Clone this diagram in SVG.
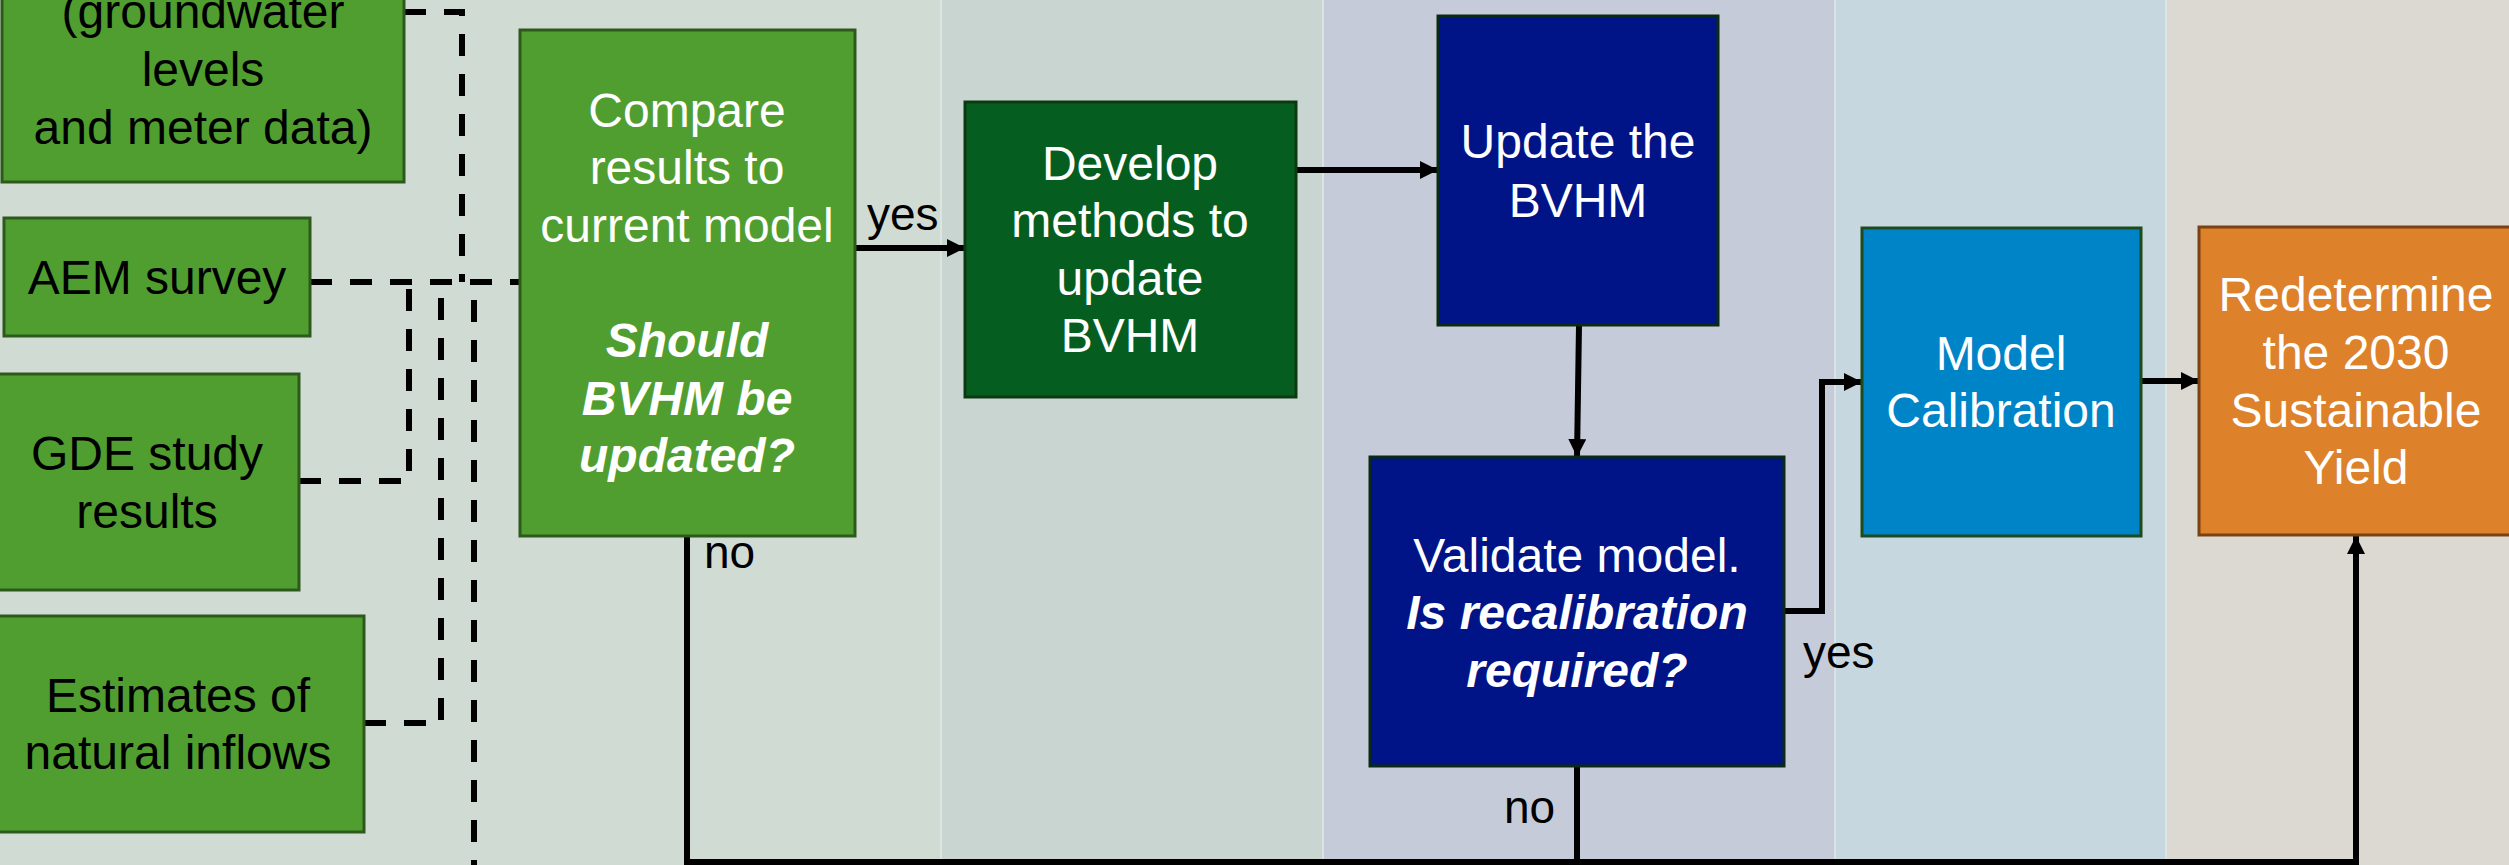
<svg xmlns="http://www.w3.org/2000/svg" width="2509" height="865" viewBox="0 0 2509 865">
<defs>
<marker id="arr" markerUnits="userSpaceOnUse" markerWidth="20" markerHeight="20" refX="18" refY="9" orient="auto">
<path d="M0,0 L18,9 L0,18 z" fill="#000"/>
</marker>
<style>
.t{font-family:"Liberation Sans",Arial,sans-serif;font-size:48px;text-anchor:middle}
.w{fill:#fff}
.k{fill:#000}
.bi{font-weight:bold;font-style:italic}
.lbl{font-family:"Liberation Sans",Arial,sans-serif;font-size:46px;fill:#000}
.g{fill:#509E30;stroke:#2D5A1C;stroke-width:3}
.sol{fill:none;stroke:#000;stroke-width:6}
.dash{fill:none;stroke:#000;stroke-width:6;stroke-dasharray:22 18}
.sep{stroke:#E2E8E6;stroke-width:1.5}
</style>
</defs>
<g id="bands">
<rect x="0" y="0" width="941" height="865" fill="#D0DBD3"/>
<rect x="941" y="0" width="382" height="865" fill="#C8D5D0"/>
<rect x="1323" y="0" width="512" height="865" fill="#C5CBD9"/>
<rect x="1835" y="0" width="331" height="865" fill="#C6D7DF"/>
<rect x="2166" y="0" width="343" height="865" fill="#DCD8D2"/>
<line class="sep" x1="941" y1="0" x2="941" y2="865"/>
<line class="sep" x1="1323" y1="0" x2="1323" y2="865"/>
<line class="sep" x1="1835" y1="0" x2="1835" y2="865"/>
<line class="sep" x1="2166" y1="0" x2="2166" y2="865"/>
</g>
<g id="connectors">
<path class="dash" d="M404,12 H462 V282"/>
<path class="dash" d="M310,282 H520"/>
<path class="dash" d="M299,481 H409 V282"/>
<path class="dash" d="M364,723 H441 V282"/>
<path class="dash" d="M474,300 V865"/>
<path class="sol" d="M856,248 H965" marker-end="url(#arr)"/>
<path class="sol" d="M1296,170 H1438" marker-end="url(#arr)"/>
<path class="sol" d="M1579,325 L1577,457" marker-end="url(#arr)"/>
<path class="sol" d="M1784,611 H1822 V382 H1862" marker-end="url(#arr)"/>
<path class="sol" d="M2141,381 H2199" marker-end="url(#arr)"/>
<path class="sol" d="M687,536 V862 H2356 V536" marker-end="url(#arr)"/>
<path class="sol" d="M1577,766 V862"/>
<text class="lbl" x="867" y="230">yes</text>
<text class="lbl" x="1803" y="668">yes</text>
<text class="lbl" x="704" y="568">no</text>
<text class="lbl" x="1504" y="823">no</text>
</g>
<g id="node-monitoring">
<rect class="g" x="2" y="-60" width="402" height="242"/>
<text class="t k" x="203" y="28">(groundwater</text>
<text class="t k" x="203" y="86">levels</text>
<text class="t k" x="203" y="144">and meter data)</text>
</g>
<g id="node-aem">
<rect class="g" x="4" y="218" width="306" height="118"/>
<text class="t k" x="157" y="294">AEM survey</text>
</g>
<g id="node-gde">
<rect class="g" x="-4" y="374" width="303" height="216"/>
<text class="t k" x="147" y="470">GDE study</text>
<text class="t k" x="147" y="528">results</text>
</g>
<g id="node-inflows">
<rect class="g" x="-8" y="616" width="372" height="216"/>
<text class="t k" x="178" y="712">Estimates of</text>
<text class="t k" x="178" y="769">natural inflows</text>
</g>
<g id="node-compare">
<rect class="g" x="520" y="30" width="335" height="506"/>
<text class="t w" x="687" y="127">Compare</text>
<text class="t w" x="687" y="184">results to</text>
<text class="t w" x="687" y="242">current model</text>
<text class="t w bi" x="687" y="357">Should</text>
<text class="t w bi" x="687" y="415">BVHM be</text>
<text class="t w bi" x="687" y="472">updated?</text>
</g>
<g id="node-develop">
<rect x="965" y="102" width="331" height="295" fill="#055E20" stroke="#0B3A12" stroke-width="3"/>
<text class="t w" x="1130" y="180">Develop</text>
<text class="t w" x="1130" y="237">methods to</text>
<text class="t w" x="1130" y="295">update</text>
<text class="t w" x="1130" y="352">BVHM</text>
</g>
<g id="node-update">
<rect x="1438" y="16" width="280" height="309" fill="#001487" stroke="#0B2A14" stroke-width="3"/>
<text class="t w" x="1578" y="158">Update the</text>
<text class="t w" x="1578" y="217">BVHM</text>
</g>
<g id="node-validate">
<rect x="1370" y="457" width="414" height="309" fill="#001487" stroke="#0B2A14" stroke-width="3"/>
<text class="t w" x="1577" y="572">Validate model.</text>
<text class="t w bi" x="1577" y="629">Is recalibration</text>
<text class="t w bi" x="1577" y="687">required?</text>
</g>
<g id="node-calibration">
<rect x="1862" y="228" width="279" height="308" fill="#0084C8" stroke="#1E4A1E" stroke-width="3"/>
<text class="t w" x="2001" y="370">Model</text>
<text class="t w" x="2001" y="427">Calibration</text>
</g>
<g id="node-redetermine">
<rect x="2199" y="227" width="316" height="308" fill="#DD812A" stroke="#7A4212" stroke-width="3"/>
<text class="t w" x="2356" y="311">Redetermine</text>
<text class="t w" x="2356" y="369">the 2030</text>
<text class="t w" x="2356" y="427">Sustainable</text>
<text class="t w" x="2356" y="484">Yield</text>
</g>
</svg>
